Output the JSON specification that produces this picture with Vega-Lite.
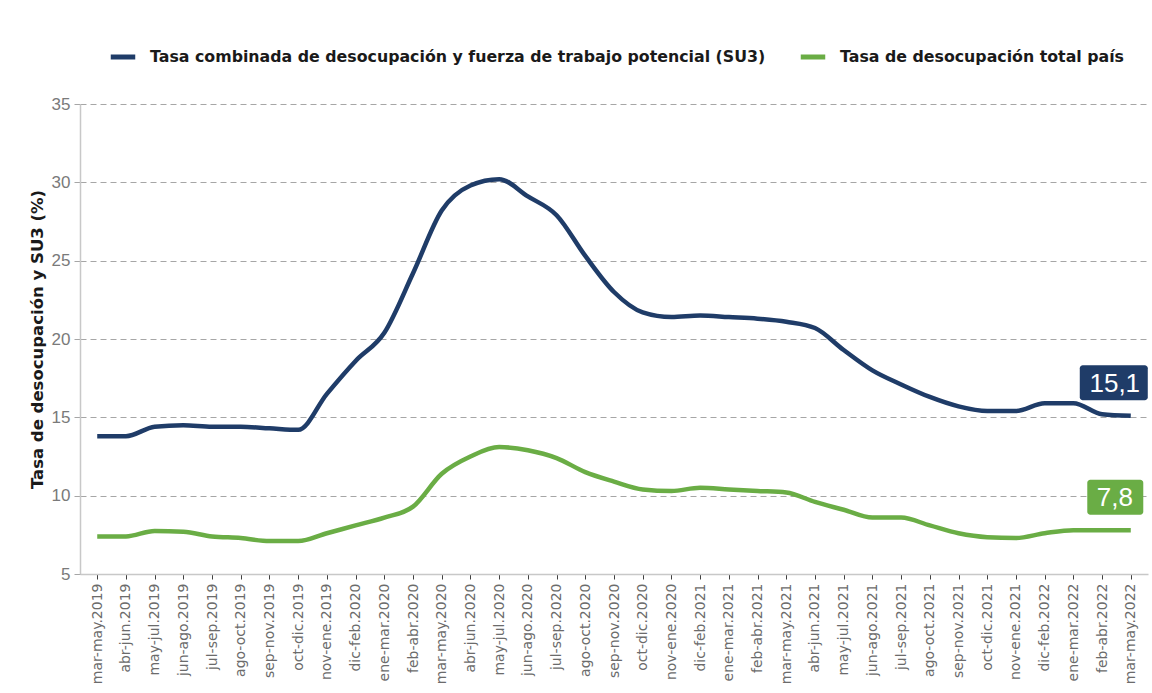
{
  "$schema": "https://vega.github.io/schema/vega-lite/v6.json",
  "width": 1068,
  "height": 470,
  "autosize": {"type": "none"},
  "padding": {"left": 80, "top": 104, "right": 4, "bottom": 119},
  "background": "white",
  "config": {
    "view": {"stroke": null},
    "font": "Liberation Sans"
  },
  "datasets": {
    "series": [
      {"periodo": "mar-may.2019", "serie": "Tasa combinada de desocupación y fuerza de trabajo potencial (SU3)", "valor": 13.8},
      {"periodo": "abr-jun.2019", "serie": "Tasa combinada de desocupación y fuerza de trabajo potencial (SU3)", "valor": 13.8},
      {"periodo": "may-jul.2019", "serie": "Tasa combinada de desocupación y fuerza de trabajo potencial (SU3)", "valor": 14.4},
      {"periodo": "jun-ago.2019", "serie": "Tasa combinada de desocupación y fuerza de trabajo potencial (SU3)", "valor": 14.5},
      {"periodo": "jul-sep.2019", "serie": "Tasa combinada de desocupación y fuerza de trabajo potencial (SU3)", "valor": 14.4},
      {"periodo": "ago-oct.2019", "serie": "Tasa combinada de desocupación y fuerza de trabajo potencial (SU3)", "valor": 14.4},
      {"periodo": "sep-nov.2019", "serie": "Tasa combinada de desocupación y fuerza de trabajo potencial (SU3)", "valor": 14.3},
      {"periodo": "oct-dic.2019", "serie": "Tasa combinada de desocupación y fuerza de trabajo potencial (SU3)", "valor": 14.2},
      {"periodo": "nov-ene.2019", "serie": "Tasa combinada de desocupación y fuerza de trabajo potencial (SU3)", "valor": 16.5},
      {"periodo": "dic-feb.2020", "serie": "Tasa combinada de desocupación y fuerza de trabajo potencial (SU3)", "valor": 18.6},
      {"periodo": "ene-mar.2020", "serie": "Tasa combinada de desocupación y fuerza de trabajo potencial (SU3)", "valor": 20.4},
      {"periodo": "feb-abr.2020", "serie": "Tasa combinada de desocupación y fuerza de trabajo potencial (SU3)", "valor": 24.2},
      {"periodo": "mar-may.2020", "serie": "Tasa combinada de desocupación y fuerza de trabajo potencial (SU3)", "valor": 28.2},
      {"periodo": "abr-jun.2020", "serie": "Tasa combinada de desocupación y fuerza de trabajo potencial (SU3)", "valor": 29.8},
      {"periodo": "may-jul.2020", "serie": "Tasa combinada de desocupación y fuerza de trabajo potencial (SU3)", "valor": 30.2},
      {"periodo": "jun-ago.2020", "serie": "Tasa combinada de desocupación y fuerza de trabajo potencial (SU3)", "valor": 29.1},
      {"periodo": "jul-sep.2020", "serie": "Tasa combinada de desocupación y fuerza de trabajo potencial (SU3)", "valor": 27.9},
      {"periodo": "ago-oct.2020", "serie": "Tasa combinada de desocupación y fuerza de trabajo potencial (SU3)", "valor": 25.3},
      {"periodo": "sep-nov.2020", "serie": "Tasa combinada de desocupación y fuerza de trabajo potencial (SU3)", "valor": 23.0},
      {"periodo": "oct-dic.2020", "serie": "Tasa combinada de desocupación y fuerza de trabajo potencial (SU3)", "valor": 21.7},
      {"periodo": "nov-ene.2020", "serie": "Tasa combinada de desocupación y fuerza de trabajo potencial (SU3)", "valor": 21.4},
      {"periodo": "dic-feb.2021", "serie": "Tasa combinada de desocupación y fuerza de trabajo potencial (SU3)", "valor": 21.5},
      {"periodo": "ene-mar.2021", "serie": "Tasa combinada de desocupación y fuerza de trabajo potencial (SU3)", "valor": 21.4},
      {"periodo": "feb-abr.2021", "serie": "Tasa combinada de desocupación y fuerza de trabajo potencial (SU3)", "valor": 21.3},
      {"periodo": "mar-may.2021", "serie": "Tasa combinada de desocupación y fuerza de trabajo potencial (SU3)", "valor": 21.1},
      {"periodo": "abr-jun.2021", "serie": "Tasa combinada de desocupación y fuerza de trabajo potencial (SU3)", "valor": 20.7},
      {"periodo": "may-jul.2021", "serie": "Tasa combinada de desocupación y fuerza de trabajo potencial (SU3)", "valor": 19.3},
      {"periodo": "jun-ago.2021", "serie": "Tasa combinada de desocupación y fuerza de trabajo potencial (SU3)", "valor": 18.0},
      {"periodo": "jul-sep.2021", "serie": "Tasa combinada de desocupación y fuerza de trabajo potencial (SU3)", "valor": 17.1},
      {"periodo": "ago-oct.2021", "serie": "Tasa combinada de desocupación y fuerza de trabajo potencial (SU3)", "valor": 16.3},
      {"periodo": "sep-nov.2021", "serie": "Tasa combinada de desocupación y fuerza de trabajo potencial (SU3)", "valor": 15.7},
      {"periodo": "oct-dic.2021", "serie": "Tasa combinada de desocupación y fuerza de trabajo potencial (SU3)", "valor": 15.4},
      {"periodo": "nov-ene.2021", "serie": "Tasa combinada de desocupación y fuerza de trabajo potencial (SU3)", "valor": 15.4},
      {"periodo": "dic-feb.2022", "serie": "Tasa combinada de desocupación y fuerza de trabajo potencial (SU3)", "valor": 15.9},
      {"periodo": "ene-mar.2022", "serie": "Tasa combinada de desocupación y fuerza de trabajo potencial (SU3)", "valor": 15.9},
      {"periodo": "feb-abr.2022", "serie": "Tasa combinada de desocupación y fuerza de trabajo potencial (SU3)", "valor": 15.2},
      {"periodo": "mar-may.2022", "serie": "Tasa combinada de desocupación y fuerza de trabajo potencial (SU3)", "valor": 15.1},
      {"periodo": "mar-may.2019", "serie": "Tasa de desocupación total país", "valor": 7.4},
      {"periodo": "abr-jun.2019", "serie": "Tasa de desocupación total país", "valor": 7.4},
      {"periodo": "may-jul.2019", "serie": "Tasa de desocupación total país", "valor": 7.75},
      {"periodo": "jun-ago.2019", "serie": "Tasa de desocupación total país", "valor": 7.7},
      {"periodo": "jul-sep.2019", "serie": "Tasa de desocupación total país", "valor": 7.4},
      {"periodo": "ago-oct.2019", "serie": "Tasa de desocupación total país", "valor": 7.3},
      {"periodo": "sep-nov.2019", "serie": "Tasa de desocupación total país", "valor": 7.1},
      {"periodo": "oct-dic.2019", "serie": "Tasa de desocupación total país", "valor": 7.1},
      {"periodo": "nov-ene.2019", "serie": "Tasa de desocupación total país", "valor": 7.6},
      {"periodo": "dic-feb.2020", "serie": "Tasa de desocupación total país", "valor": 8.1},
      {"periodo": "ene-mar.2020", "serie": "Tasa de desocupación total país", "valor": 8.6},
      {"periodo": "feb-abr.2020", "serie": "Tasa de desocupación total país", "valor": 9.3},
      {"periodo": "mar-may.2020", "serie": "Tasa de desocupación total país", "valor": 11.4},
      {"periodo": "abr-jun.2020", "serie": "Tasa de desocupación total país", "valor": 12.5},
      {"periodo": "may-jul.2020", "serie": "Tasa de desocupación total país", "valor": 13.1},
      {"periodo": "jun-ago.2020", "serie": "Tasa de desocupación total país", "valor": 12.9},
      {"periodo": "jul-sep.2020", "serie": "Tasa de desocupación total país", "valor": 12.4},
      {"periodo": "ago-oct.2020", "serie": "Tasa de desocupación total país", "valor": 11.5},
      {"periodo": "sep-nov.2020", "serie": "Tasa de desocupación total país", "valor": 10.9},
      {"periodo": "oct-dic.2020", "serie": "Tasa de desocupación total país", "valor": 10.4},
      {"periodo": "nov-ene.2020", "serie": "Tasa de desocupación total país", "valor": 10.3},
      {"periodo": "dic-feb.2021", "serie": "Tasa de desocupación total país", "valor": 10.5},
      {"periodo": "ene-mar.2021", "serie": "Tasa de desocupación total país", "valor": 10.4},
      {"periodo": "feb-abr.2021", "serie": "Tasa de desocupación total país", "valor": 10.3},
      {"periodo": "mar-may.2021", "serie": "Tasa de desocupación total país", "valor": 10.2},
      {"periodo": "abr-jun.2021", "serie": "Tasa de desocupación total país", "valor": 9.6},
      {"periodo": "may-jul.2021", "serie": "Tasa de desocupación total país", "valor": 9.1},
      {"periodo": "jun-ago.2021", "serie": "Tasa de desocupación total país", "valor": 8.6},
      {"periodo": "jul-sep.2021", "serie": "Tasa de desocupación total país", "valor": 8.6},
      {"periodo": "ago-oct.2021", "serie": "Tasa de desocupación total país", "valor": 8.1},
      {"periodo": "sep-nov.2021", "serie": "Tasa de desocupación total país", "valor": 7.6},
      {"periodo": "oct-dic.2021", "serie": "Tasa de desocupación total país", "valor": 7.35},
      {"periodo": "nov-ene.2021", "serie": "Tasa de desocupación total país", "valor": 7.3},
      {"periodo": "dic-feb.2022", "serie": "Tasa de desocupación total país", "valor": 7.6},
      {"periodo": "ene-mar.2022", "serie": "Tasa de desocupación total país", "valor": 7.8},
      {"periodo": "feb-abr.2022", "serie": "Tasa de desocupación total país", "valor": 7.8},
      {"periodo": "mar-may.2022", "serie": "Tasa de desocupación total país", "valor": 7.8}
    ],
    "etiquetas": [
      {"periodo": "mar-may.2022", "serie": "Tasa combinada de desocupación y fuerza de trabajo potencial (SU3)", "valor": 15.1, "texto": "15,1"},
      {"periodo": "mar-may.2022", "serie": "Tasa de desocupación total país", "valor": 7.8, "texto": "7,8"}
    ]
  },
  "encoding": {
    "x": {
      "field": "periodo",
      "type": "ordinal",
      "sort": null,
      "scale": {"type": "point", "padding": 0.6},
      "axis": {
        "title": null,
        "labelAngle": -90,
        "labelAlign": "right",
        "labelBaseline": "middle",
        "labelFont": "DejaVu Sans",
        "labelFontSize": 14,
        "labelColor": "#6b6b6b",
        "labelPadding": 4,
        "tickColor": "#404040",
        "tickSize": 5,
        "domainColor": "#c8c8c8",
        "domainWidth": 1.5,
        "grid": false
      }
    },
    "y": {
      "field": "valor",
      "type": "quantitative",
      "scale": {"domain": [5, 35], "nice": false, "zero": false},
      "axis": {
        "title": "Tasa de desocupación y SU3 (%)",
        "titleFont": "DejaVu Sans",
        "titleFontSize": 16.5,
        "titleFontWeight": "bold",
        "titleColor": "#1a1a1a",
        "titlePadding": 6,
        "values": [5, 10, 15, 20, 25, 30, 35],
        "labelFontSize": 17,
        "labelColor": "#7a7a7a",
        "labelPadding": 4,
        "tickColor": "#a6a6a6",
        "tickSize": 6,
        "domainColor": "#c8c8c8",
        "domainWidth": 1.5,
        "grid": true,
        "gridColor": "#a6a6a6",
        "gridDash": [6, 4],
        "gridWidth": 1
      }
    }
  },
  "layer": [
    {
      "data": {"name": "series"},
      "mark": {"type": "line", "strokeWidth": 4.5, "interpolate": "monotone"},
      "encoding": {
        "color": {
          "field": "serie",
          "type": "nominal",
          "scale": {
            "domain": ["Tasa combinada de desocupación y fuerza de trabajo potencial (SU3)", "Tasa de desocupación total país"],
            "range": ["#1f3c68", "#6aad45"]
          },
          "legend": {
            "title": null,
            "orient": "none",
            "direction": "horizontal",
            "legendX": 28,
            "legendY": -62,
            "symbolType": "stroke",
            "symbolStrokeWidth": 5,
            "symbolSize": 600,
            "labelFont": "DejaVu Sans",
            "labelFontSize": 15.8,
            "labelFontWeight": "bold",
            "labelColor": "#1a1a1a",
            "labelOffset": 12,
            "columnPadding": 24,
            "labelLimit": 900
          }
        }
      }
    },
    {
      "data": {"name": "etiquetas"},
      "transform": [{"filter": "datum.texto == '15,1'"}],
      "mark": {"type": "rect", "width": 68, "height": 35, "xOffset": -17, "yOffset": -33, "cornerRadius": 3},
      "encoding": {
        "color": {"field": "serie", "type": "nominal", "legend": null}
      }
    },
    {
      "data": {"name": "etiquetas"},
      "transform": [{"filter": "datum.texto == '7,8'"}],
      "mark": {"type": "rect", "width": 56, "height": 35, "xOffset": -15.5, "yOffset": -33, "cornerRadius": 3},
      "encoding": {
        "color": {"field": "serie", "type": "nominal", "legend": null}
      }
    },
    {
      "data": {"name": "etiquetas"},
      "mark": {"type": "text", "color": "white", "fontSize": 26, "xOffset": -16, "yOffset": -32, "align": "center", "baseline": "middle"},
      "encoding": {
        "text": {"field": "texto"}
      }
    }
  ]
}
